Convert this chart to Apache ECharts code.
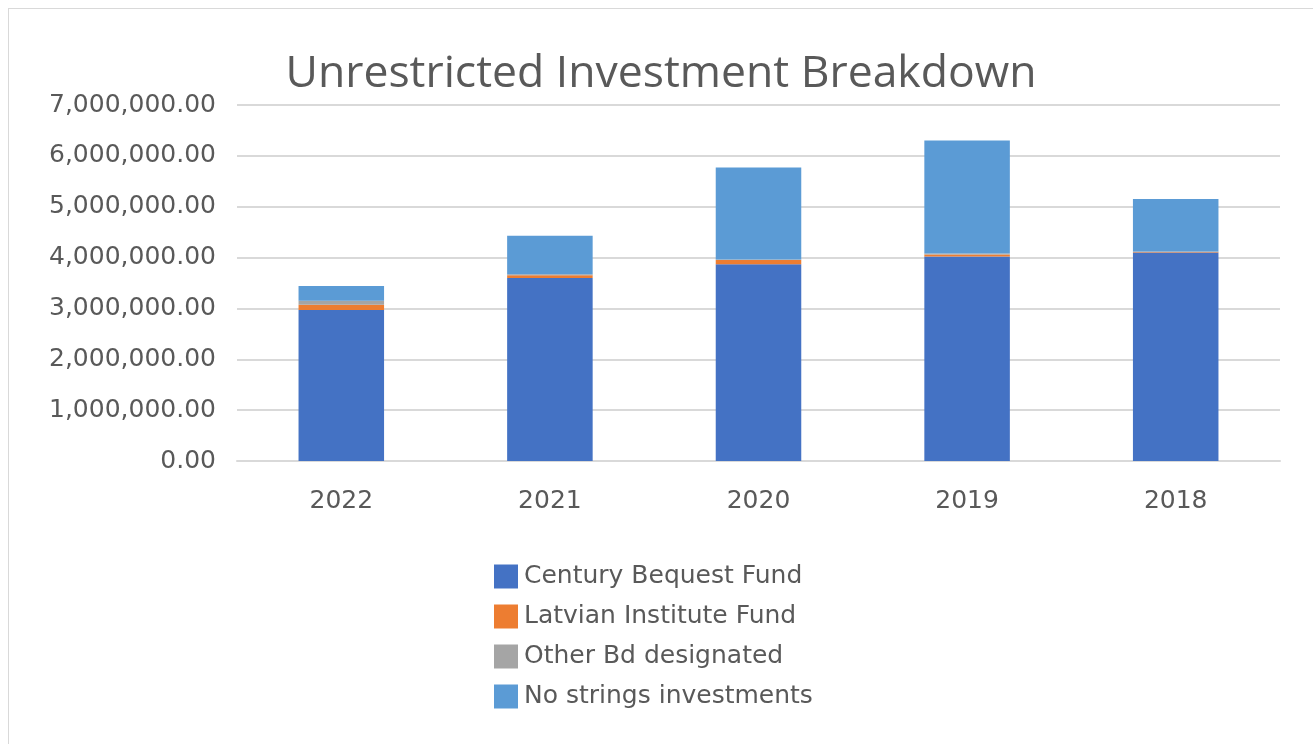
<!DOCTYPE html>
<html>
<head>
<meta charset="utf-8">
<script src="https://cdn.jsdelivr.net/npm/echarts@6/dist/echarts.min.js"></script>
<style>
  html, body { margin: 0; padding: 0; background: #fff; }
  #frame {
    position: absolute; left: 8px; top: 8px; width: 1320px; height: 760px;
    border: 1px solid #d9d9d9; box-sizing: border-box;
  }
  #chart { position: absolute; left: 0; top: 0; width: 1313px; height: 744px; }
</style>
</head>
<body>
<div id="frame"></div>
<div id="chart"></div>
<script>
const years = ["2022", "2021", "2020", "2019", "2018"];
const centuryBequest = [2970000, 3600000, 3870000, 4020000, 4100000];
const latvianInstitute = [100000, 50000, 80000, 40000, 10000];
const otherBd = [80000, 20000, 10000, 20000, 10000];
const noStrings = [290000, 760000, 1810000, 2220000, 1030000];
const yTicks = [0, 1000000, 2000000, 3000000, 4000000, 5000000, 6000000, 7000000];

const titleFont = "'Open Sans', 'DejaVu Sans', sans-serif";
const labelFont = "'DejaVu Sans', sans-serif";
const textColor = "#595959";

const chart = echarts.init(document.getElementById("chart"));

function fmt(v) {
  return v.toLocaleString("en-US", { minimumFractionDigits: 2, maximumFractionDigits: 2 });
}

function bar(name, data, color) {
  return {
    name, type: "bar", stack: "total", data,
    barWidth: "41%",
    itemStyle: { color },
  };
}

chart.setOption({
  animation: false,
  title: {
    text: "Unrestricted Investment Breakdown",
    left: 656, top: 47, textAlign: "center",
    textStyle: { fontFamily: titleFont, fontSize: 44.5, fontWeight: "normal", color: textColor },
  },
  grid: { left: 237, right: 33, top: 105, bottom: 283 },
  legend: {
    orient: "vertical",
    left: 489, top: 559,
    itemWidth: 24, itemHeight: 24, itemGap: 15,
    icon: "rect",
    textStyle: { fontFamily: labelFont, fontSize: 25, color: textColor, padding: [0, 0, 0, 1] },
  },
  xAxis: {
    type: "category",
    data: years,
    axisLine: { lineStyle: { color: "#d9d9d9", width: 2 } },
    axisTick: { show: false },
    axisLabel: { fontFamily: labelFont, fontSize: 25, color: textColor, margin: 28 },
  },
  yAxis: {
    type: "value",
    min: yTicks[0], max: yTicks[yTicks.length - 1], interval: 1000000,
    axisLine: { show: false },
    axisTick: { show: false },
    splitLine: { lineStyle: { color: "#d9d9d9", width: 2 } },
    axisLabel: { fontFamily: labelFont, fontSize: 25, color: textColor, margin: 21, formatter: fmt },
  },
  series: [
    bar("Century Bequest Fund", centuryBequest, "#4472C4"),
    bar("Latvian Institute Fund", latvianInstitute, "#ED7D31"),
    bar("Other Bd designated", otherBd, "#A5A5A5"),
    bar("No strings investments", noStrings, "#5B9BD5"),
  ],
});
</script>
</body>
</html>
